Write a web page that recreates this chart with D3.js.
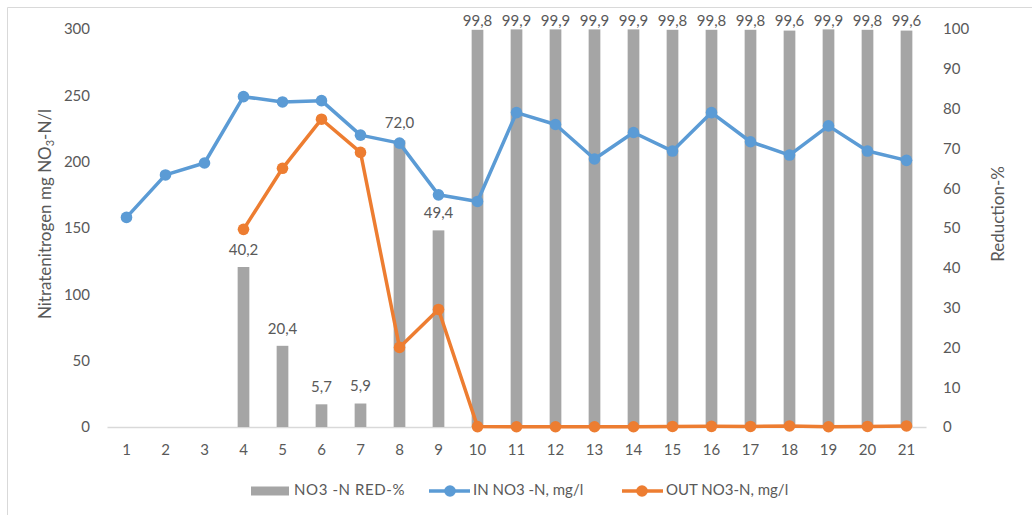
<!DOCTYPE html>
<html>
<head>
<meta charset="utf-8">
<script src="https://cdn.jsdelivr.net/npm/d3@7"></script>
<style>
  html, body { margin: 0; padding: 0; background: #fff; }
  svg { display: block; }
  text { font-family: Lato, "Open Sans", sans-serif; fill: #595959; }
</style>
</head>
<body>
<svg id="chart" width="1032" height="515"></svg>
<script>
// Sampling days
const days = d3.range(1, 22).map(String);

// Nitrate reduction, % (right axis); no value for the first three days
const reductionPct = [null, null, null, 40.2, 20.4, 5.7, 5.9, 72.0, 49.4, 99.8,
  99.9, 99.9, 99.9, 99.9, 99.8, 99.8, 99.8, 99.6, 99.9, 99.8, 99.6];

// Incoming NO3-N, mg/l (left axis)
const inNO3 = [158, 190, 199, 249, 245, 246, 220, 214, 175, 170,
  237, 228, 202, 222, 208, 237, 215, 205, 227, 208, 201];

// Outgoing NO3-N, mg/l (left axis)
const outNO3 = [null, null, null, 149, 195, 232, 207, 60, 88.6, 0.3,
  0.2, 0.2, 0.2, 0.2, 0.4, 0.5, 0.4, 0.8, 0.2, 0.4, 0.8];

const leftTicks = [0, 50, 100, 150, 200, 250, 300];
const rightTicks = [0, 10, 20, 30, 40, 50, 60, 70, 80, 90, 100];

const svg = d3.select("#chart");
const plot = { left: 107, right: 926, top: 29, bottom: 427 };

const x = d3.scaleBand().domain(days)
  .range([plot.left, plot.right])
  .paddingInner(0.7).paddingOuter(0.35);
const cx = d => x(d) + x.bandwidth() / 2;
const yL = d3.scaleLinear().domain([0, 300]).range([plot.bottom, plot.top]);
const yR = d3.scaleLinear().domain([0, 100]).range([plot.bottom, plot.top]);

// Outer frame (top and left edges)
svg.append("path")
  .attr("d", "M7.5,515 V7.5 H1032")
  .attr("fill", "none").attr("stroke", "#D9D9D9").attr("stroke-width", 1);

// Category axis
const xAxis = svg.append("g")
  .attr("transform", `translate(0,${plot.bottom})`)
  .call(d3.axisBottom(x).tickSize(0).tickPadding(17));
xAxis.select(".domain").attr("stroke", "#D9D9D9").attr("stroke-width", 1.3);
xAxis.selectAll("text").attr("font-size", 15).attr("fill", "#595959")
  .style("font-family", "Lato, 'Open Sans', sans-serif");

// Left value axis
const yAxisL = svg.append("g")
  .attr("transform", `translate(${plot.left},0)`)
  .call(d3.axisLeft(yL).tickValues(leftTicks).tickSize(0).tickPadding(17));
yAxisL.select(".domain").remove();
yAxisL.selectAll("text").attr("font-size", 15).attr("fill", "#595959")
  .style("font-family", "Lato, 'Open Sans', sans-serif");

// Right value axis
const yAxisR = svg.append("g")
  .attr("transform", `translate(${plot.right},0)`)
  .call(d3.axisRight(yR).tickValues(rightTicks).tickSize(0).tickPadding(17));
yAxisR.select(".domain").remove();
yAxisR.selectAll("text").attr("font-size", 15).attr("fill", "#595959")
  .style("font-family", "Lato, 'Open Sans', sans-serif");

// Axis titles
const lt = svg.append("text")
  .attr("transform", "translate(47,214) rotate(-90)")
  .attr("text-anchor", "middle").attr("dominant-baseline", "middle")
  .attr("font-size", 17);
lt.append("tspan").text("Nitratenitrogen mg NO");
lt.append("tspan").attr("font-size", 11).attr("dy", 4).text("3");
lt.append("tspan").attr("dy", -4).text("-N/l");

svg.append("text")
  .attr("transform", "translate(1000,214) rotate(-90)")
  .attr("text-anchor", "middle").attr("dominant-baseline", "middle")
  .attr("font-size", 17)
  .text("Reduction-%");

// Reduction bars
const barData = days.map((d, i) => ({ day: d, v: reductionPct[i] })).filter(d => d.v != null);
svg.append("g").selectAll("rect").data(barData).join("rect")
  .attr("x", d => x(d.day))
  .attr("width", x.bandwidth())
  .attr("y", d => yR(d.v))
  .attr("height", d => yR(0) - yR(d.v))
  .attr("fill", "#A5A5A5");

// Lines with markers
function drawSeries(values, color) {
  const pts = days.map((d, i) => ({ day: d, v: values[i] })).filter(d => d.v != null);
  const line = d3.line().x(d => cx(d.day)).y(d => yL(d.v));
  svg.append("path").datum(pts)
    .attr("d", line).attr("fill", "none")
    .attr("stroke", color).attr("stroke-width", 3.5)
    .attr("stroke-linejoin", "round").attr("stroke-linecap", "round");
  svg.append("g").selectAll("circle").data(pts).join("circle")
    .attr("cx", d => cx(d.day)).attr("cy", d => yL(d.v))
    .attr("r", 5.8).attr("fill", color);
}
drawSeries(inNO3, "#5B9BD5");
drawSeries(outNO3, "#ED7D31");

// Bar value labels (kept inside the top of the chart area)
svg.append("g").selectAll("text").data(barData).join("text")
  .attr("x", d => cx(d.day))
  .attr("y", d => Math.max(yR(d.v) - 16, 22))
  .attr("text-anchor", "middle").attr("dominant-baseline", "middle")
  .attr("font-size", 15)
  .text(d => d3.format(".1f")(d.v).replace(".", ","));

// Legend
const lg = svg.append("g").attr("transform", "translate(0,491)");
lg.append("rect").attr("x", 251).attr("y", -4.5).attr("width", 38).attr("height", 9).attr("fill", "#A5A5A5");
lg.append("text").attr("x", 294).attr("y", 0).attr("dominant-baseline", "middle")
  .attr("font-size", 15).attr("letter-spacing", 0.6).text("NO3 -N RED-%");

lg.append("line").attr("x1", 429).attr("x2", 470).attr("stroke", "#5B9BD5").attr("stroke-width", 3.5);
lg.append("circle").attr("cx", 450).attr("cy", 0).attr("r", 5.8).attr("fill", "#5B9BD5");
lg.append("text").attr("x", 473).attr("y", 0).attr("dominant-baseline", "middle")
  .attr("font-size", 15).text("IN NO3 -N, mg/l");

lg.append("line").attr("x1", 622).attr("x2", 663).attr("stroke", "#ED7D31").attr("stroke-width", 3.5);
lg.append("circle").attr("cx", 642).attr("cy", 0).attr("r", 5.8).attr("fill", "#ED7D31");
lg.append("text").attr("x", 666).attr("y", 0).attr("dominant-baseline", "middle")
  .attr("font-size", 15).text("OUT NO3-N, mg/l");
</script>
</body>
</html>
